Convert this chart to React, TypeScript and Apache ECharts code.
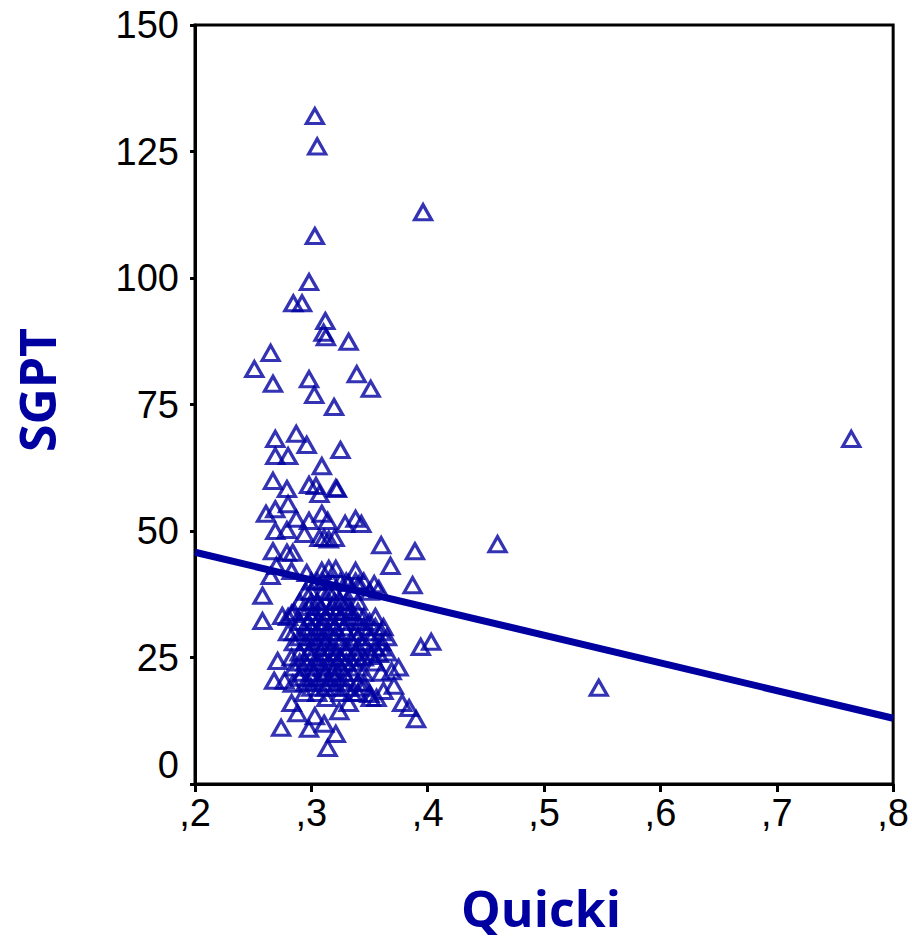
import React, { useEffect, useRef } from "react";
import * as echarts from "echarts";

// Axis ticks
const xTicks = [0.2, 0.3, 0.4, 0.5, 0.6, 0.7, 0.8];
const yTicks = [0, 25, 50, 75, 100, 125, 150];

// Isolated points [Quicki, SGPT]
const outlierPoints: [number, number][] = [
  [0.396, 113], [0.764, 68.2], [0.46, 47.4], [0.547, 19.0], [0.389, 46.0],
  [0.387, 39.3], [0.394, 27.1], [0.403, 28.1], [0.39, 12.8],
];

// High SGPT points
const upperPoints: [number, number][] = [
  [0.303, 132], [0.305, 126], [0.303, 108.3], [0.298, 99.2], [0.2845, 95], [0.292, 95],
  [0.312, 91.5], [0.3105, 89.2], [0.3125, 88.3], [0.332, 87.4], [0.265, 85.2], [0.251, 82],
  [0.339, 81], [0.298, 80], [0.267, 79.1], [0.351, 78.1], [0.3025, 76.9], [0.3195, 74.5],
  [0.269, 68.2], [0.287, 69.2], [0.296, 67], [0.325, 66], [0.269, 64.8], [0.28, 64.8], [0.309, 62.8],
];

// Mid-range points
const midPoints: [number, number][] = [
  [0.267, 59.9], [0.279, 58.3], [0.298, 59.1], [0.304, 58.9], [0.307, 57.3], [0.321, 58.5],
  [0.322, 58.3], [0.28, 55.3], [0.261, 53.4], [0.269, 54.3], [0.287, 52.4], [0.298, 52],
  [0.309, 53.4], [0.314, 52], [0.329, 51.4], [0.338, 52.4], [0.343, 51.4], [0.269, 50],
  [0.279, 50.2], [0.294, 49.4], [0.307, 48.6], [0.311, 48.6], [0.315, 48.3], [0.32, 48.6],
  [0.36, 47.2], [0.267, 46], [0.279, 45.7], [0.284, 45.7], [0.368, 43.1], [0.27, 43.1],
  [0.265, 41.1], [0.283, 42.1], [0.296, 41.7], [0.309, 42.1], [0.315, 42.5], [0.321, 42.5],
  [0.338, 42.1], [0.258, 37.2], [0.354, 39.5], [0.358, 38.5], [0.332, 39.7], [0.341, 39.5],
  [0.258, 32.2], [0.275, 33.2], [0.283, 33.6], [0.334, 34.2],
  [0.355, 33], [0.362, 31], [0.365, 29], [0.36, 27], [0.375, 23],
];

// Low SGPT points
const lowPoints: [number, number][] = [
  [0.271, 24.3], [0.268, 20.4], [0.277, 20.4], [0.284, 19.8], [0.294, 18], [0.283, 16],
  [0.288, 14], [0.303, 13.4], [0.311, 11.9], [0.274, 11.1], [0.298, 10.9], [0.321, 9.9],
  [0.314, 7.1], [0.324, 14.4], [0.313, 17], [0.332, 16], [0.351, 17], [0.356, 17],
  [0.35, 17.8], [0.362, 18.4], [0.369, 22.3], [0.371, 19.4], [0.378, 16], [0.384, 15],
  [0.358, 25.7], [0.352, 25.3],
];

// Dense cluster: rows of [SGPT, Quicki values]
const clusterRows: [number, number[]][] = [
  [40, [0.3, 0.305, 0.31, 0.318, 0.325, 0.33, 0.338, 0.345]],
  [38, [0.295, 0.3, 0.31, 0.315, 0.32, 0.328, 0.335, 0.35]],
  [36, [0.29, 0.3, 0.305, 0.312, 0.32, 0.325, 0.33, 0.34]],
  [35, [0.298, 0.308, 0.318, 0.33]],
  [34, [0.285, 0.292, 0.302, 0.31, 0.315, 0.322, 0.33, 0.34]],
  [33, [0.28, 0.3, 0.312, 0.325, 0.335, 0.345]],
  [32, [0.29, 0.297, 0.305, 0.31, 0.318, 0.33, 0.34, 0.35]],
  [31, [0.3, 0.31, 0.32, 0.328, 0.345, 0.355]],
  [30, [0.28, 0.285, 0.295, 0.305, 0.315, 0.322, 0.33, 0.338, 0.348, 0.36]],
  [29, [0.29, 0.3, 0.31, 0.32, 0.34, 0.352]],
  [28, [0.285, 0.295, 0.305, 0.312, 0.325, 0.335, 0.345, 0.36]],
  [27, [0.3, 0.31, 0.318, 0.33, 0.34, 0.355]],
  [26, [0.29, 0.298, 0.308, 0.315, 0.322, 0.33, 0.338, 0.35, 0.365]],
  [25, [0.283, 0.3, 0.31, 0.32, 0.325, 0.34, 0.345]],
  [24, [0.29, 0.295, 0.305, 0.315, 0.33, 0.335, 0.355]],
  [23, [0.285, 0.3, 0.31, 0.32, 0.325, 0.34]],
  [22, [0.292, 0.302, 0.312, 0.318, 0.328, 0.335, 0.345, 0.36]],
  [21, [0.29, 0.3, 0.31, 0.32, 0.33]],
  [20, [0.295, 0.305, 0.315, 0.325, 0.34, 0.345]],
  [19, [0.3, 0.312, 0.32, 0.33, 0.345]],
  [18, [0.305, 0.325, 0.335, 0.34]],
];

// Fit line endpoints [Quicki, SGPT]
const fitLine: [number, number][] = [
  [0.2, 45.8],
  [0.8, 13.0],
];

const BLUE = "#0000A0";

export default function App() {
  const ref = useRef<HTMLDivElement>(null);

  useEffect(() => {
    if (!ref.current) return;
    const chart = echarts.init(ref.current, null, { renderer: "svg" });
    const clusterPoints: [number, number][] = [];
    clusterRows.forEach(([y, xs]) => xs.forEach((x) => clusterPoints.push([x, y])));
    const allPoints = [...outlierPoints, ...upperPoints, ...midPoints, ...lowPoints, ...clusterPoints];

    const labelFont = {
      fontFamily: "'Liberation Sans', Arial, sans-serif",
      fontSize: 38,
      color: "#000",
    };

    chart.setOption({
      animation: false,
      backgroundColor: "#fff",
      grid: {
        left: 195,
        right: 15,
        top: 25,
        bottom: 158,
        show: true,
        borderColor: "#000",
        borderWidth: 3,
        backgroundColor: "transparent",
      },
      xAxis: {
        type: "value",
        min: xTicks[0],
        max: xTicks[xTicks.length - 1],
        interval: 0.1,
        splitLine: { show: false },
        axisLine: { show: true, lineStyle: { color: "#000", width: 3 } },
        axisTick: { show: true, length: 8, lineStyle: { color: "#000", width: 3 } },
        axisLabel: {
          ...labelFont,
          margin: 10,
          formatter: (v: number) => "," + String(Math.round(v * 10)),
        },
      },
      yAxis: {
        type: "value",
        min: yTicks[0],
        max: yTicks[yTicks.length - 1],
        interval: 25,
        splitLine: { show: false },
        axisLine: { show: true, lineStyle: { color: "#000", width: 3 } },
        axisTick: { show: true, length: 5, lineStyle: { color: "#000", width: 3 } },
        axisLabel: {
          ...labelFont,
          margin: 16,
          verticalAlignMinLabel: "bottom",
        },
      },
      graphic: [
        {
          type: "text",
          x: 37,
          y: 390,
          rotation: Math.PI / 2,
          style: {
            text: "SGPT",
            fill: BLUE,
            font: "bold 50px 'Open Sans', 'Noto Sans', sans-serif",
            textAlign: "center",
            textVerticalAlign: "middle",
          },
        },
        {
          type: "text",
          x: 541,
          y: 908,
          style: {
            text: "Quicki",
            fill: BLUE,
            font: "bold 50px 'Open Sans', 'Noto Sans', sans-serif",
            textAlign: "center",
            textVerticalAlign: "middle",
          },
        },
      ],
      series: [
        {
          type: "scatter",
          data: allPoints,
          symbol: "triangle",
          symbolSize: [17, 15],
          itemStyle: {
            color: "rgba(0,0,0,0)",
            borderColor: BLUE,
            borderWidth: 3.2,
          },
          z: 2,
        },
        {
          type: "line",
          data: fitLine,
          showSymbol: false,
          symbol: "none",
          lineStyle: { color: BLUE, width: 7 },
          z: 3,
        },
      ],
    });
    return () => chart.dispose();
  }, []);

  return (
    <div
      ref={ref}
      style={{ position: "absolute", left: 0, top: 0, width: 912, height: 942 }}
    />
  );
}
